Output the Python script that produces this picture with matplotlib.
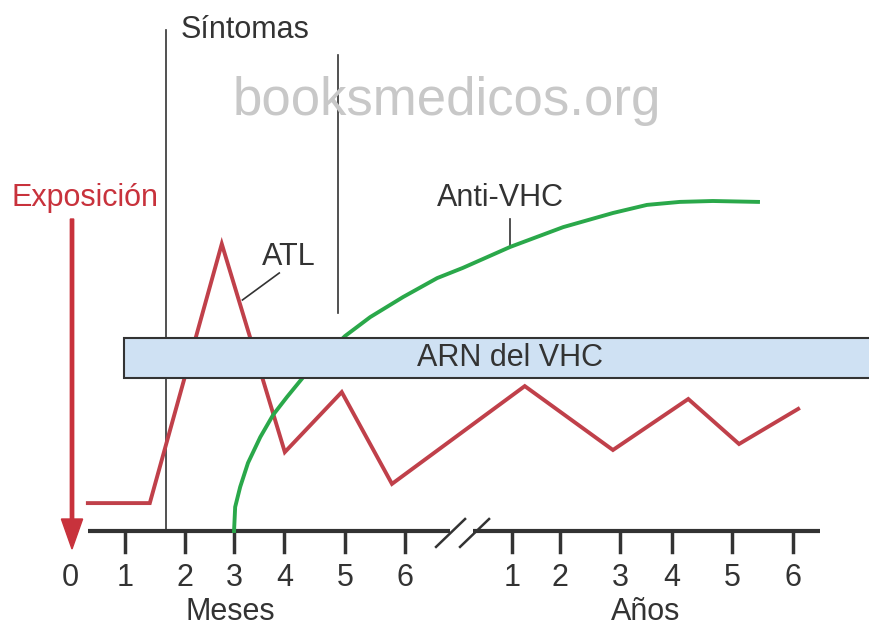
import numpy as np
import matplotlib.pyplot as plt
from matplotlib.patches import Rectangle, FancyArrow

plt.rcParams['font.family'] = ['Liberation Sans', 'DejaVu Sans']

# x in months (years continue after the break, roughly year k at 7 + k)
# the drawing is schematic, so the tick marks are not evenly spaced
month_ticks = [0, 0.99, 2.06, 2.94, 3.84, 4.93, 6.0]
month_labels = ["0", "1", "2", "3", "4", "5", "6"]
year_ticks = [7.92, 8.78, 9.86, 10.79, 11.86, 12.96]
year_labels = ["1", "2", "3", "4", "5", "6"]

# ALT (ATL) curve
alt_x = [0.32, 1.43, 2.72, 3.85, 4.87, 5.77, 8.15, 9.73, 11.08, 11.99, 13.05]
alt_y = [9.3, 9.3, 95.7, 26.3, 46.3, 15.7, 48.3, 27.0, 44.0, 29.0, 40.7]

# anti-HCV curve
anti_x = [2.94, 2.96, 3.05, 3.19, 3.41, 3.64, 3.89, 4.18, 4.93, 5.38, 5.97, 6.58,
          7.04, 7.89, 8.84, 9.73, 10.34, 10.93, 11.52, 12.33]
anti_y = [0.0, 8.0, 14.7, 22.7, 31.3, 38.7, 44.7, 51.3, 65.0, 71.3, 78.0, 84.3,
          87.7, 94.7, 101.3, 106.0, 108.7, 109.7, 110.0, 109.7]

sintomas_x = [1.72, 4.80]
sintomas_top = [167, 158.7]
sintomas_bottom = [0, 72.7]

rna_start, rna_low, rna_high = 0.97, 51, 64.3

red = "#c8323c"
alt_red = "#c0404a"
green = "#2aa84a"
dark = "#333333"

fig = plt.figure(figsize=(8.7, 6.28), dpi=100)
ax = fig.add_axes([0, 0, 1, 1])
ax.set_xlim(-70 / 55.8, 800 / 55.8)
ax.set_ylim(-97 / 3, 531 / 3)
ax.axis('off')

# watermark
ax.text(6.76, 143.5, "booksmedicos.org", fontsize=38, color="#c8c8c8",
        ha='center', va='center')

# symptom lines
for x, lo, hi in zip(sintomas_x, sintomas_bottom, sintomas_top):
    ax.plot([x, x], [lo, hi], color=dark, lw=1.2)
ax.text(1.98, 167, "Síntomas", fontsize=22, color="#333333", ha='left', va='center')

# curves
ax.plot(alt_x, alt_y, color=alt_red, lw=2.8, solid_joinstyle='miter', zorder=3)
ax.plot(anti_x, anti_y, color=green, lw=2.8, zorder=3)

# RNA box on top
ax.add_patch(Rectangle((rna_start, rna_low), 20, rna_high - rna_low,
                       facecolor="#cfe1f3", edgecolor=dark, lw=1.5, zorder=4))
ax.text(7.88, (rna_low + rna_high) / 2, "ARN del VHC", fontsize=22, color="#333333",
        ha='center', va='center', zorder=5)

# labels with pointer lines
ax.text(3.92, 91.3, "ATL", fontsize=22, color="#333333", ha='center', va='center')
ax.plot([3.75, 3.09], [86, 77], color=dark, lw=1.2)
ax.text(7.71, 111, "Anti-VHC", fontsize=22, color="#333333", ha='center', va='center')
ax.plot([7.89, 7.89], [104, 95], color=dark, lw=1.2)

# exposure arrow
ax.text(0.27, 111, "Exposición", fontsize=22, color=red, ha='center', va='center')
ax.add_patch(FancyArrow(0.036, 104, 0, -110, width=0.06, head_width=0.38,
                        head_length=10, length_includes_head=True,
                        color=red, zorder=5))

# time axis with break
ax.plot([0.32, 6.81], [0, 0], color=dark, lw=3, solid_capstyle='butt')
ax.plot([7.22, 13.44], [0, 0], color=dark, lw=3, solid_capstyle='butt')
for dx in [0, 0.43]:
    ax.plot([6.56 + dx, 7.08 + dx], [-5.3, 4], color=dark, lw=1.8)

for t, lab in zip(month_ticks + year_ticks, month_labels + year_labels):
    if t != 0:
        ax.plot([t, t], [0, -7], color=dark, lw=2.5)
    ax.text(t, -15.7, lab, fontsize=22, color="#333333", ha='center', va='center')

ax.text(2.87, -27, "Meses", fontsize=22, color="#333333", ha='center', va='center')
ax.text(10.32, -27, "Años", fontsize=22, color="#333333", ha='center', va='center')

fig.savefig("out.png", dpi=100)
